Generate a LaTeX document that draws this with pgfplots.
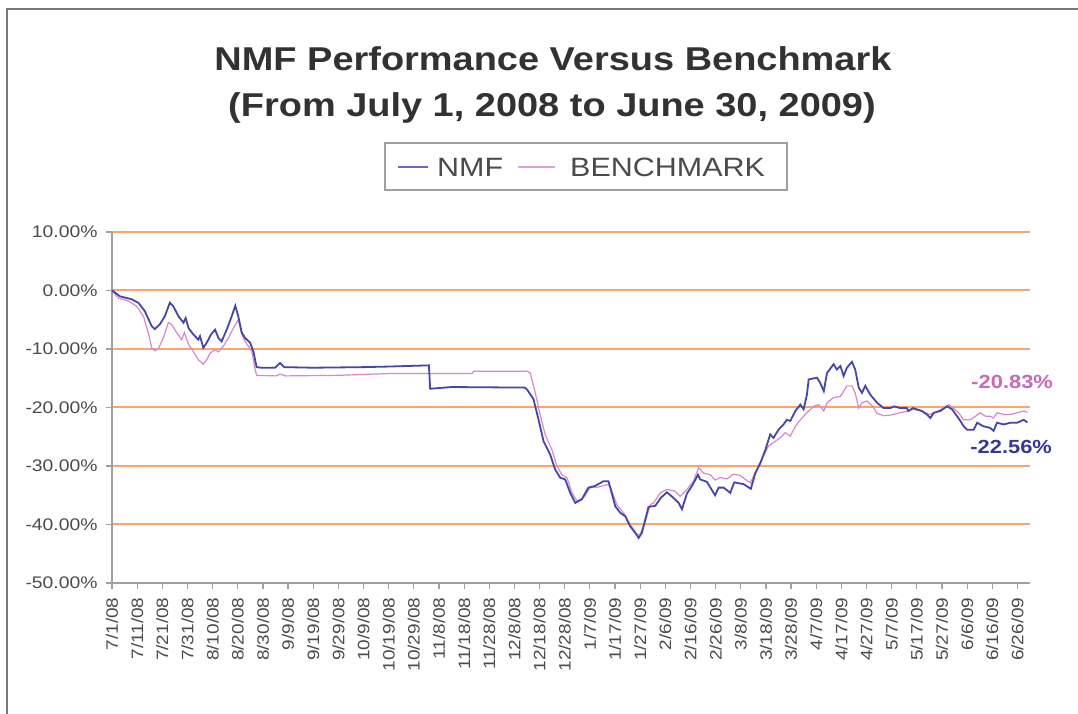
\documentclass[border=0pt]{standalone}
\usepackage{fontspec}
\setmainfont{Liberation Sans}[FakeStretch=1.15]
\usepackage{pgfplots}
\pgfplotsset{compat=1.18}
\definecolor{nmfblue}{RGB}{70,70,165}
\definecolor{benchpink}{RGB}{215,135,205}
\definecolor{lblpink}{RGB}{200,105,180}
\definecolor{lblblue}{RGB}{55,55,150}
\definecolor{gridorange}{RGB}{250,165,110}
\definecolor{axisgray}{RGB}{160,160,160}
\definecolor{textgray}{RGB}{75,75,75}
\definecolor{titlegray}{RGB}{50,50,50}
\definecolor{framegray}{RGB}{120,120,120}

\pgfplotstableread{
d v
0 0
3.2 -1.0
7.8 -1.5
10.5 -2.1
13 -3.5
15.8 -6.1
17 -6.6
19 -5.8
21 -4.4
23 -2.1
24.4 -2.7
26.4 -4.4
28.4 -5.5
29.3 -4.7
30.4 -6.4
32.3 -7.5
34.3 -8.4
35 -7.8
36.3 -9.8
37.7 -8.9
39.4 -7.5
41 -6.7
42.3 -8.1
43.6 -8.7
45.6 -6.7
47.6 -4.4
49 -2.6
50.2 -4.4
51.6 -7.2
52.9 -8.1
54.9 -8.9
56.2 -10.4
57.5 -13.1
59.5 -13.2
64.8 -13.2
66.8 -12.4
68.5 -13.1
80 -13.2
100 -13.1
110 -13.0
126 -12.8
126.5 -16.8
135 -16.5
164 -16.6
165 -16.9
167.6 -18.6
169.6 -22.1
171.6 -25.8
174.2 -28.0
176.2 -30.6
178.2 -32.0
180.2 -32.3
182.2 -34.6
184.2 -36.3
186.8 -35.7
189.4 -33.7
192.1 -33.4
195.4 -32.6
197.4 -32.6
198.1 -33.7
200.1 -36.9
202.1 -38.0
204.1 -38.6
206 -40.3
208 -41.4
209.4 -42.3
210.7 -41.4
213.3 -37.0
216 -36.8
218.3 -35.4
220.6 -34.5
222.6 -35.2
225.3 -36.3
226.6 -37.4
228.6 -34.7
230.6 -33.4
233.0 -31.5
233.9 -32.3
236.5 -32.7
239.8 -35.0
241.2 -33.7
243.2 -33.7
245.8 -34.6
247.4 -32.8
251.1 -33.1
254 -33.9
255.8 -31.2
257.8 -29.5
259.8 -27.2
261.7 -24.6
263 -25.2
265 -23.8
267 -22.9
268.3 -22.1
269.7 -22.3
271.7 -20.6
273.7 -19.5
275 -20.3
276.3 -17.8
277 -15.2
280.3 -14.9
281.6 -15.8
283 -17.2
284.3 -14.1
286.9 -12.6
288.2 -13.5
289.6 -12.9
290.9 -14.6
292.2 -13.2
294.2 -12.2
295.5 -13.5
296.9 -16.6
298.2 -17.5
299.5 -16.3
301.5 -17.8
304.2 -19.2
306.8 -20.1
309.5 -20.1
311 -19.8
313.4 -20.1
316 -20.1
316.6 -20.6
318.5 -20.1
322 -20.6
324 -21.2
325.4 -21.8
326.7 -20.9
329.3 -20.6
332 -19.8
334 -20.3
336 -21.5
337.3 -22.3
338.6 -23.2
340 -23.8
342.6 -23.8
344 -22.6
345.2 -22.9
346.4 -23.2
349.2 -23.5
350.5 -24.0
351.9 -22.6
354.5 -22.9
357.2 -22.6
359.9 -22.6
362.5 -22.1
364 -22.56
}\nmf

\pgfplotstableread{
d v
0 0
2.5 -1.3
6.5 -1.8
9.8 -2.7
12.5 -4.4
14.4 -7.2
15.8 -9.8
17.1 -10.3
18.4 -10.0
20.4 -8.1
22.4 -5.5
23.7 -5.8
25.7 -7.2
27.7 -8.4
28.8 -7.2
30.4 -9.2
32.3 -10.4
34.3 -11.8
36.3 -12.6
37.7 -11.8
39 -10.7
41 -10.1
42.3 -10.5
44.3 -9.5
46.3 -8.1
48.3 -6.4
50.2 -5.0
51.6 -7.5
52.9 -8.7
55.6 -10.4
56.9 -13.5
57.5 -14.5
65 -14.6
67 -14.3
69 -14.6
90 -14.5
110 -14.2
143 -14.2
144 -13.8
165 -13.8
166.3 -14.1
168.3 -17.5
170.2 -21.2
172.2 -24.6
174.9 -27.2
176.9 -30.0
178.9 -31.5
180.9 -32.0
182.9 -34.6
184.9 -36.0
187.5 -35.4
190.1 -33.7
193.4 -33.6
196.8 -33.2
198 -33.4
200.7 -36.6
203.4 -38.0
206 -40.0
208.7 -41.7
210 -41.7
212.7 -38.6
214 -36.6
215.4 -36.3
218 -34.6
220.6 -34.0
223.9 -34.3
225.9 -35.2
228.6 -34.0
231.2 -32.6
233.2 -30.3
235.2 -31.2
237.9 -31.5
239.8 -32.4
241.8 -32.0
244.5 -32.2
247.1 -31.4
249.7 -31.6
253.8 -32.9
256.4 -30.5
259 -28.3
261 -26.6
263 -26.0
265.6 -25.2
267.7 -24.3
269.7 -24.9
271.7 -23.2
274.3 -21.8
276.3 -20.9
279 -19.8
281 -19.5
283 -20.6
284.3 -19.2
286.9 -18.3
289.6 -18.1
292.2 -16.3
294.2 -16.3
295.5 -17.5
296.9 -20.1
298.2 -19.2
300.2 -18.9
302.5 -19.8
304.2 -21.0
306.8 -21.4
309.5 -21.3
313.4 -20.9
316.6 -20.6
318.5 -20.3
322 -20.6
325 -21.2
327 -20.9
330.7 -20.1
332.7 -19.5
334.5 -20.1
336.6 -20.9
338.6 -22.1
341.3 -22.1
343.3 -21.5
345.2 -20.9
347.3 -21.5
349.2 -21.5
350.5 -21.8
351.9 -20.9
354.5 -21.2
357.2 -21.2
359.9 -20.9
362.5 -20.6
364 -20.83
}\bench

\begin{document}
\begin{tikzpicture}
\useasboundingbox (0pt,0pt) rectangle (1078pt,714pt);
\fill[white] (0pt,0pt) rectangle (1078pt,714pt);
\draw[framegray, line width=2pt] (7pt,0pt) -- (7pt,705pt) -- (1078pt,705pt);

\node[anchor=base, inner sep=0pt, text=titlegray, font=\fontsize{33}{40}\selectfont\bfseries] at (553pt,643pt) {NMF Performance Versus Benchmark};
\node[anchor=base, inner sep=0pt, text=titlegray, font=\fontsize{33}{40}\selectfont\bfseries] at (552pt,597pt) {(From July 1, 2008 to June 30, 2009)};

\begin{axis}[
  at={(112pt,131pt)}, anchor=south west,
  scale only axis, width=918pt, height=351pt,
  xmin=0, xmax=365, ymin=-50, ymax=10,
  axis lines*=left,
  axis line style={axisgray, line width=1.8pt},
  tick style={axisgray, line width=1.2pt},
  major tick length=6pt,
  tick align=outside,
  clip=false,
  ytick={-50,-40,-30,-20,-10,0,10},
  yticklabels={-50.00\%,-40.00\%,-30.00\%,-20.00\%,-10.00\%,0.00\%,10.00\%},
  yticklabel style={font=\fontsize{16.8}{18}\selectfont, text=textgray, xshift=-5pt},
  xtick={0,10,...,360},
  xticklabels={7/1/08,7/11/08,7/21/08,7/31/08,8/10/08,8/20/08,8/30/08,9/9/08,9/19/08,9/29/08,10/9/08,10/19/08,10/29/08,11/8/08,11/18/08,11/28/08,12/8/08,12/18/08,12/28/08,1/7/09,1/17/09,1/27/09,2/6/09,2/16/09,2/26/09,3/8/09,3/18/09,3/28/09,4/7/09,4/17/09,4/27/09,5/7/09,5/17/09,5/27/09,6/6/09,6/16/09,6/26/09},
  xticklabel style={rotate=90, anchor=east, font=\fontsize{16.5}{18}\selectfont, text=textgray, xshift=-5pt},
  ymajorgrids,
  grid style={gridorange, line width=2pt},
]
\addplot[benchpink, line width=1.2pt] table[x=d,y=v] {\bench};
\addplot[nmfblue, line width=1.8pt] table[x=d,y=v] {\nmf};
\node[text=lblpink, font=\fontsize{19}{22}\selectfont\bfseries] at (axis cs:357.9,-15.7) {-20.83\%};
\node[text=lblblue, font=\fontsize{19}{22}\selectfont\bfseries] at (axis cs:357.5,-26.7) {-22.56\%};
\end{axis}

\draw[axisgray, line width=1.5pt] (385pt,571pt) rectangle (787pt,524pt);
\draw[nmfblue!80, line width=1.6pt] (398pt,547pt) -- (428pt,547pt);
\draw[benchpink!80, line width=1.6pt] (518pt,547pt) -- (555pt,547pt);
\node[anchor=base west, inner sep=0pt, text=textgray, font=\fontsize{26.5}{30}\selectfont] at (437pt,537pt) {NMF};
\node[anchor=base west, inner sep=0pt, text=textgray, font=\fontsize{26.5}{30}\selectfont] at (570pt,537pt) {BENCHMARK};
\end{tikzpicture}
\end{document}
